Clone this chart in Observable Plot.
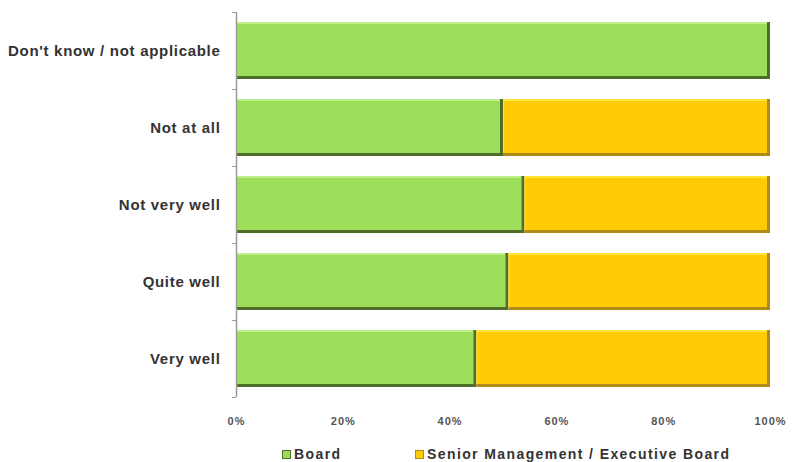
<!DOCTYPE html>
<html><head><meta charset="utf-8">
<script src="https://cdn.jsdelivr.net/npm/d3@7"></script>
<script src="https://cdn.jsdelivr.net/npm/@observablehq/plot@0.6"></script>
<style>
body{margin:0;background:#fff;font-family:"Liberation Sans",Arial,sans-serif;}
#legend{position:relative;height:27px;font-size:14px;font-weight:bold;color:#333;letter-spacing:1.4px;}
.item{position:absolute;top:11px;display:flex;align-items:center;}
.sw{width:7px;height:7px;margin-right:3px;}
g[aria-label="y-axis tick label"] text{letter-spacing:0.7px;}
g[aria-label="x-axis tick label"] text{letter-spacing:1px;}
</style></head><body>
<div id="chart"></div>
<div id="legend"></div>
<script>
const categories = ["Don't know / not applicable", "Not at all", "Not very well", "Quite well", "Very well"];
const seriesNames = ["Board", "Senior Management / Executive Board"];
const board = [100, 50, 54, 51, 45];
const senior = [0, 50, 46, 49, 55];
const xTicks = [0, 20, 40, 60, 80, 100];

const mainColor = {"Board": "#9cdd5a", "Senior Management / Executive Board": "#ffcb05"};
const lightColor = {"Board": "#bdee8c", "Senior Management / Executive Board": "#ffe43a"};
const darkColor = {"Board": "#4f6e2a", "Senior Management / Executive Board": "#b08b1a"};

const table = [];
categories.forEach((c, i) => {
  if (board[i] > 0) table.push({category: c, series: seriesNames[0], value: board[i]});
  if (senior[i] > 0) table.push({category: c, series: seriesNames[1], value: senior[i]});
});

const stack = (opts) => Plot.stackX({x: "value", y: "category", ...opts});

const chart = Plot.plot({
  width: 795,
  height: 435,
  marginLeft: 236,
  marginRight: 25,
  marginTop: 12,
  marginBottom: 38,
  style: {fontFamily: "'Liberation Sans', Arial, sans-serif", background: "#fff"},
  x: {domain: [0, 100], ticks: xTicks, tickFormat: d => d + "%"},
  y: {domain: categories, paddingInner: 0.26, paddingOuter: 0.13},
  marks: [
    Plot.barX(table, stack({fill: d => darkColor[d.series]})),
    Plot.barX(table, stack({fill: d => lightColor[d.series], insetRight: 3, insetBottom: 3})),
    Plot.barX(table, stack({fill: d => mainColor[d.series], insetRight: 3, insetBottom: 3, insetTop: 2, insetLeft: 1})),
    Plot.ruleX([0], {stroke: "#9a9a9a", strokeWidth: 1.5}),
    Plot.ruleY(categories, {y: d => d, x1: -0.8, x2: 0, dy: -38.5, stroke: "#9a9a9a"}),
    Plot.ruleY(categories.slice(-1), {y: d => d, x1: -0.8, x2: 0, dy: 38.5, stroke: "#9a9a9a"}),
    Plot.axisY({tickSize: 0, tickPadding: 16, fontSize: 15, fontWeight: "bold", fill: "#333", label: null}),
    Plot.axisX({ticks: xTicks, tickSize: 0, tickPadding: 20, fontSize: 11, fontWeight: "bold", fill: "#555", tickFormat: d => d + "%", label: null})
  ]
});
document.getElementById("chart").appendChild(chart);

const legend = document.getElementById("legend");
const lx = [282, 415];
seriesNames.forEach((s, i) => {
  const it = document.createElement("div");
  it.className = "item";
  it.style.left = lx[i] + "px";
  const sw = document.createElement("div");
  sw.className = "sw";
  sw.style.background = mainColor[s];
  sw.style.border = "1px solid " + darkColor[s];
  const t = document.createElement("span");
  t.textContent = s;
  it.appendChild(sw); it.appendChild(t);
  legend.appendChild(it);
});
</script>
</body></html>
